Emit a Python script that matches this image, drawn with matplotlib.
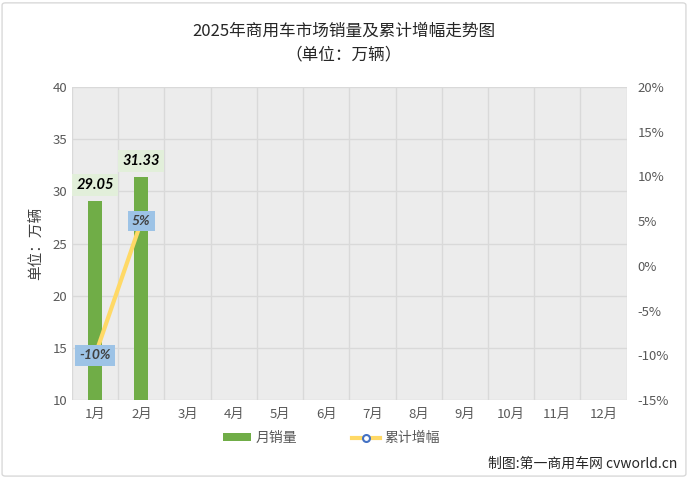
import matplotlib
matplotlib.use("Agg")
import matplotlib.pyplot as plt
from matplotlib.patches import FancyBboxPatch
from matplotlib.lines import Line2D
from matplotlib.patches import Patch
import numpy as np

plt.rcParams['font.family'] = ['Noto Sans CJK SC', 'DejaVu Sans']

months = ['1月', '2月', '3月', '4月', '5月', '6月', '7月', '8月', '9月', '10月', '11月', '12月']
sales = [29.05, 31.33]
growth = [-10, 5]
growth_labels = ['-10%', '5%']
y_left_ticks = [10, 15, 20, 25, 30, 35, 40]
y_right_ticks = [-15, -10, -5, 0, 5, 10, 15, 20]

fig = plt.figure(figsize=(6.88, 4.78), dpi=100)
# outer border
fig.patches.append(FancyBboxPatch((0.003, 0.004), 0.994, 0.99, boxstyle="round,pad=0,rounding_size=0.005",
                                  transform=fig.transFigure, fill=False, edgecolor='#d9d9d9', linewidth=1))

ax = fig.add_axes([0.1047, 0.163, 0.806, 0.655])
ax.set_facecolor('#ececec')
x = np.arange(len(months))
ax.set_xlim(-0.5, len(months) - 0.5)
ax.set_ylim(10, 40)
ax.set_yticks(y_left_ticks)
ax.set_xticks(x)
ax.set_xticklabels(months)
ax.tick_params(axis='both', length=0, colors='#595959', labelsize=9.5)
ax.tick_params(axis='x', pad=6)
for yv in y_left_ticks[1:-1]:
    ax.axhline(yv, color='#d9d9d9', linewidth=1, zorder=1)
for xv in np.arange(-0.5, len(months) + 0.5, 1):
    ax.axvline(xv, color='#d9d9d9', linewidth=1, zorder=1)
for s in ax.spines.values():
    s.set_visible(False)
ax.axhline(40, color='#d9d9d9', linewidth=1, zorder=1)
ax.axhline(10, color='#d9d9d9', linewidth=1, zorder=1)

bars = ax.bar(x[:len(sales)], sales, width=0.3, color='#70ad47', zorder=2)
for xi, v in zip(x, sales):
    ax.text(xi, v + 0.9, f'{v:.2f}', ha='center', va='bottom', fontsize=10.5, fontweight='bold',
            fontstyle='italic', family='Lato', color='black', zorder=5,
            bbox=dict(boxstyle='square,pad=0.3', facecolor='#e2efda', edgecolor='none'))
ax.set_ylabel('单位：万辆', fontsize=10.5, color='#404040', labelpad=6)

ax2 = ax.twinx()
ax2.set_ylim(-15, 20)
ax2.set_yticks(y_right_ticks)
ax2.set_yticklabels([f'{t}%' for t in y_right_ticks])
ax2.tick_params(axis='y', length=0, colors='#595959', labelsize=9.5, pad=8)
for s in ax2.spines.values():
    s.set_visible(False)
ax2.plot(x[:len(growth)], growth, color='#ffd966', linewidth=3, marker='o', markersize=5,
         markerfacecolor='white', markeredgecolor='#4472c4', markeredgewidth=1.5, zorder=3)
for xi, v, lab in zip(x, growth, growth_labels):
    ax2.text(xi, v, lab, ha='center', va='center', fontsize=10, fontweight='bold',
             fontstyle='italic', family='Lato', color='#404040', zorder=6,
             bbox=dict(boxstyle='square,pad=0.3', facecolor='#9dc3e6', edgecolor='none'))

fig.text(0.5, 0.935, '2025年商用车市场销量及累计增幅走势图', ha='center', va='center', fontsize=12, color='#262626')
fig.text(0.5, 0.885, '（单位：万辆）', ha='center', va='center', fontsize=12, color='#262626')

handles = [Patch(facecolor='#70ad47', edgecolor='none'),
           Line2D([0], [0], color='#ffd966', linewidth=3, marker='o', markersize=5,
                  markerfacecolor='white', markeredgecolor='#4472c4', markeredgewidth=1.5)]
fig.legend(handles, ['月销量', '累计增幅'], loc='center', bbox_to_anchor=(0.482, 0.083), ncol=2,
           frameon=False, fontsize=10, labelcolor='#595959', handlelength=2.0, handleheight=0.5,
           handletextpad=0.3, columnspacing=4.0)

fig.text(0.985, 0.03, '制图:第一商用车网 cvworld.cn', ha='right', va='center', fontsize=10, color='#262626')

fig.savefig('out.png', dpi=100)
